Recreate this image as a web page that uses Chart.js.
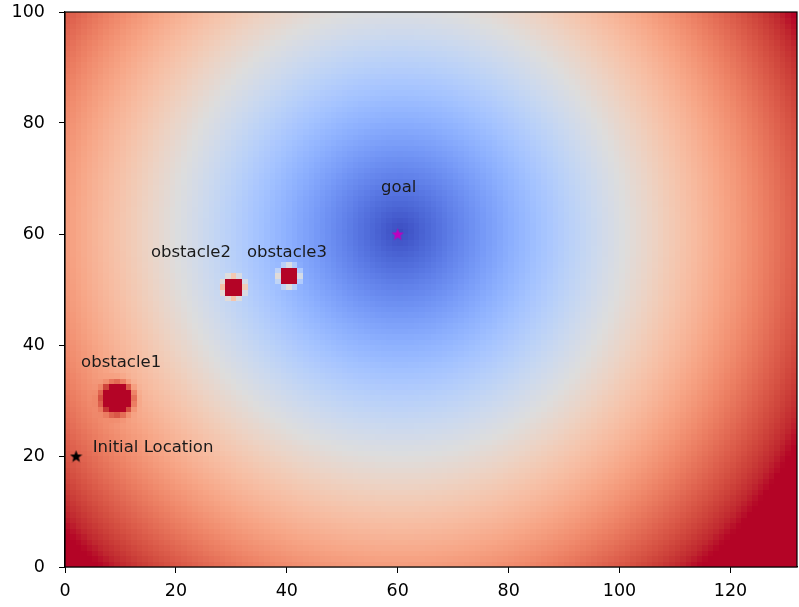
<!DOCTYPE html>
<html>
<head>
<meta charset="utf-8">
<script src="https://cdn.jsdelivr.net/npm/chart.js@4.4.1/dist/chart.umd.min.js"></script>
<style>
  html, body { margin: 0; padding: 0; background: #fff; }
</style>
</head>
<body>
<canvas id="fieldChart" width="799" height="607"></canvas>
<script>
// scene
var gridW = 132, gridH = 100;
var goal = [60, 60];
var start = [2, 20];
var obstacleX = [9, 30, 40];
var obstacleY = [30, 50, 52];
var obstacleRange = [5, 3, 3];   // repulsive range (grid cells)
var eta = 1300;                  // repulsive gain
var vmax = 81;                   // colour scale top (clipped above)

var xTicks = [0, 20, 40, 60, 80, 100, 120];
var yTicks = [0, 20, 40, 60, 80, 100];

var labelText = ['Initial Location', 'goal', 'obstacle1', 'obstacle2', 'obstacle3'];
var labelX = [5, 57, 2.9, 15.5, 32.8];
var labelY = [20.8, 67.5, 36, 55.8, 55.8];

// coolwarm colormap (Moreland), 33 stops
var coolwarm = [
  [59,76,192],[68,90,204],[77,104,215],[87,117,225],[98,130,234],[108,142,241],
  [119,154,247],[130,165,251],[141,176,254],[152,185,255],[163,194,255],[174,201,253],
  [184,208,249],[194,213,244],[204,217,238],[213,219,230],[221,221,221],[229,216,209],
  [236,211,197],[241,204,184],[245,196,172],[247,187,160],[247,177,148],[247,166,135],
  [244,154,123],[241,141,111],[236,127,99],[229,112,88],[222,96,77],[213,80,66],
  [203,62,56],[192,40,47],[180,4,38]
];

function cmap(t) {
  t = Math.max(0, Math.min(1, t));
  var p = t * (coolwarm.length - 1);
  var i = Math.min(Math.floor(p), coolwarm.length - 2);
  var f = p - i;
  var a = coolwarm[i], b = coolwarm[i + 1];
  return 'rgb(' + Math.round(a[0] + (b[0] - a[0]) * f) + ',' +
    Math.round(a[1] + (b[1] - a[1]) * f) + ',' +
    Math.round(a[2] + (b[2] - a[2]) * f) + ')';
}

// potential at a grid node: distance to goal + obstacle repulsion
function potential(ix, iy) {
  var u = Math.hypot(ix - goal[0], iy - goal[1]);
  for (var k = 0; k < obstacleX.length; k++) {
    var dq = Math.max(Math.hypot(ix - obstacleX[k], iy - obstacleY[k]), 0.1);
    if (dq <= obstacleRange[k]) {
      u += 0.5 * eta * Math.pow(1 / dq - 1 / obstacleRange[k], 2);
    }
  }
  return u;
}

function starImage(size, color) {
  var c = document.createElement('canvas');
  c.width = size; c.height = size;
  var g = c.getContext('2d');
  var cx = size / 2, cy = size / 2 + size * 0.05, R = size / 2, r = R * 0.42;
  g.beginPath();
  for (var i = 0; i < 10; i++) {
    var ang = -Math.PI / 2 + i * Math.PI / 5;
    var rad = i % 2 === 0 ? R : r;
    g.lineTo(cx + rad * Math.cos(ang), cy + rad * Math.sin(ang));
  }
  g.closePath();
  g.fillStyle = color;
  g.fill();
  return c;
}

var heatmapPlugin = {
  id: 'heatmap',
  beforeDatasetsDraw: function (chart) {
    var ctx = chart.ctx, xs = chart.scales.x, ys = chart.scales.y, area = chart.chartArea;
    ctx.save();
    ctx.beginPath();
    ctx.rect(area.left, area.top, area.right - area.left, area.bottom - area.top);
    ctx.clip();
    for (var i = 0; i < gridW; i++) {
      var x0 = Math.floor(xs.getPixelForValue(i));
      var x1 = Math.ceil(xs.getPixelForValue(i + 1));
      for (var j = 0; j < gridH; j++) {
        var y0 = Math.floor(ys.getPixelForValue(j + 1));
        var y1 = Math.ceil(ys.getPixelForValue(j));
        ctx.fillStyle = cmap(potential(i, j) / vmax);
        ctx.fillRect(x0, y0, x1 - x0, y1 - y0);
      }
    }
    ctx.restore();
  },
  afterDatasetsDraw: function (chart) {
    var ctx = chart.ctx, xs = chart.scales.x, ys = chart.scales.y, area = chart.chartArea;
    ctx.save();
    ctx.fillStyle = '#1a1a1a';
    ctx.font = '16.5px "DejaVu Sans"';
    ctx.textBaseline = 'alphabetic';
    ctx.textAlign = 'left';
    for (var k = 0; k < labelText.length; k++) {
      ctx.fillText(labelText[k], xs.getPixelForValue(labelX[k]), ys.getPixelForValue(labelY[k]));
    }
    ctx.strokeStyle = '#000';
    ctx.lineWidth = 1.2;
    ctx.strokeRect(area.left, area.top, area.right - area.left, area.bottom - area.top);
    ctx.restore();
  }
};

Chart.defaults.font.family = '"DejaVu Sans", sans-serif';
Chart.defaults.font.size = 17.5;
Chart.defaults.color = '#000';

var ctx = document.getElementById('fieldChart').getContext('2d');
new Chart(ctx, {
  type: 'scatter',
  data: {
    datasets: [{
      label: 'Initial Location',
      data: [{ x: start[0], y: start[1] }],
      pointStyle: starImage(13, '#000'),
      pointRadius: 6
    }, {
      label: 'goal',
      data: [{ x: goal[0], y: goal[1] }],
      pointStyle: starImage(13, '#bf00bf'),
      pointRadius: 6
    }]
  },
  options: {
    responsive: false,
    animation: false,
    devicePixelRatio: 1,
    layout: { autoPadding: false, padding: { left: 0, top: 12, right: 2, bottom: 0 } },
    plugins: { legend: { display: false }, tooltip: { enabled: false } },
    scales: {
      x: {
        type: 'linear', min: 0, max: gridW,
        afterBuildTicks: function (s) { s.ticks = xTicks.map(function (v) { return { value: v }; }); },
        afterFit: function (s) { s.height = 40; s.paddingLeft = 0; s.paddingRight = 0; },
        grid: { drawOnChartArea: false, drawTicks: true, tickLength: 6, color: '#000' },
        border: { display: true, color: '#000', width: 1.2 },
        ticks: { padding: 8, maxRotation: 0, color: '#000' }
      },
      y: {
        type: 'linear', min: 0, max: gridH,
        afterBuildTicks: function (s) { s.ticks = yTicks.map(function (v) { return { value: v }; }); },
        afterFit: function (s) { s.width = 65; s.paddingTop = 0; s.paddingBottom = 0; },
        grid: { drawOnChartArea: false, drawTicks: true, tickLength: 6, color: '#000' },
        border: { display: true, color: '#000', width: 1.2 },
        ticks: { padding: 14, color: '#000' }
      }
    }
  },
  plugins: [heatmapPlugin]
});
</script>
</body>
</html>
